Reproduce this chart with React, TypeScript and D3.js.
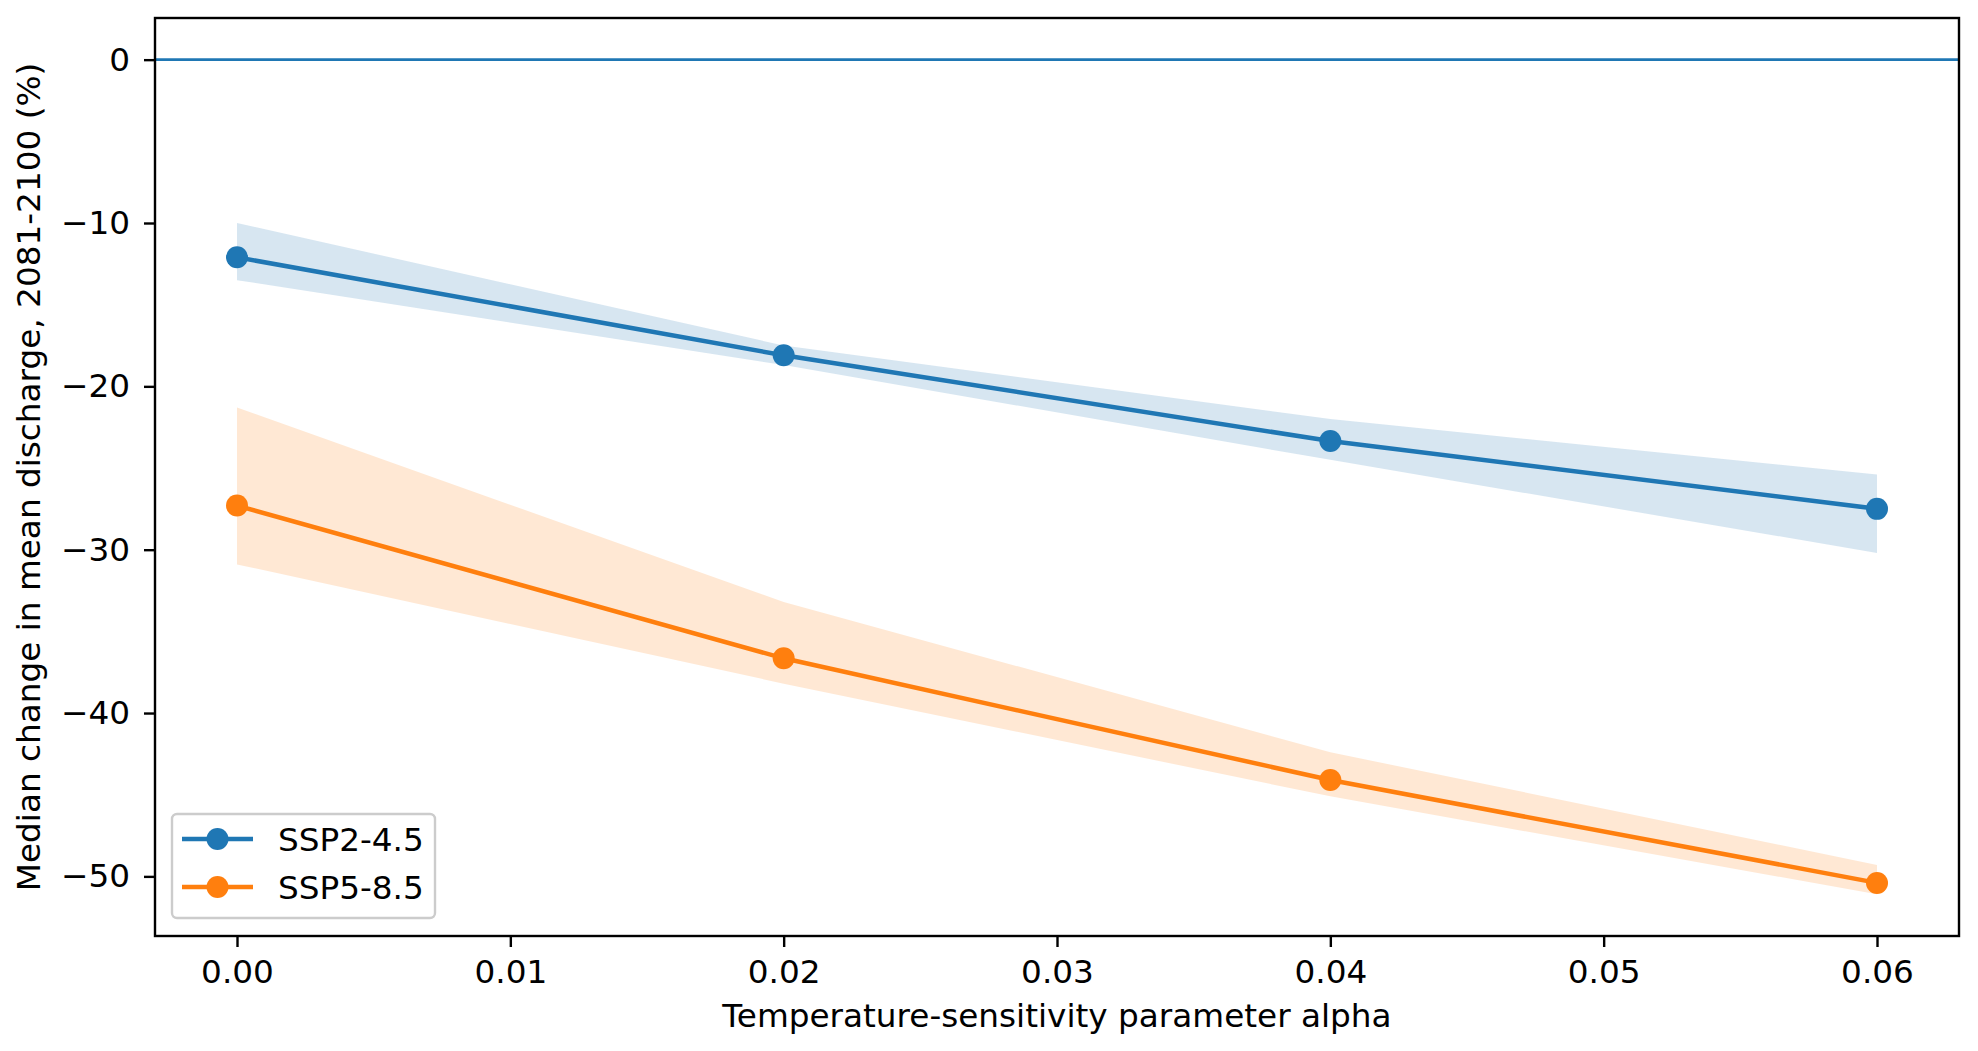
import { useEffect, useRef } from "react"
import * as d3 from "d3"

// alpha values on the x axis
const alphas = [0.0, 0.02, 0.04, 0.06]

// SSP2-4.5 median and band
const ssp245Median = [-12.1, -18.1, -23.35, -27.5]
const ssp245Upper = [-10.0, -17.5, -22.0, -25.4]
const ssp245Lower = [-13.5, -18.7, -24.5, -30.2]

// SSP5-8.5 median and band
const ssp585Median = [-27.3, -36.65, -44.1, -50.4]
const ssp585Upper = [-21.3, -33.2, -42.4, -49.3]
const ssp585Lower = [-30.9, -38.2, -45.1, -51.1]

const xTicks = [0.0, 0.01, 0.02, 0.03, 0.04, 0.05, 0.06]
const yTicks = [0, -10, -20, -30, -40, -50]

const seriesNames = ["SSP2-4.5", "SSP5-8.5"]
const seriesColors = ["#1f77b4", "#ff7f0e"]

export default function App() {
  const svgRef = useRef<SVGSVGElement>(null)

  useEffect(() => {
    if (!svgRef.current) return
    const svg = d3.select(svgRef.current)
    svg.selectAll("*").remove()

    const W = 1978
    const H = 1051
    const margin = { top: 18, right: 19, bottom: 115, left: 155 }
    const font = "DejaVu Sans, sans-serif"
    const fontSize = 32.7

    svg.attr("width", W).attr("height", H)
    svg.append("rect").attr("width", W).attr("height", H).attr("fill", "white")

    const x = d3.scaleLinear().domain([-0.003, 0.063]).range([margin.left, W - margin.right])
    const y = d3.scaleLinear().domain([2.55, -53.65]).range([margin.top, H - margin.bottom])

    const plot = svg.append("g")

    const series = [
      { median: ssp245Median, upper: ssp245Upper, lower: ssp245Lower },
      { median: ssp585Median, upper: ssp585Upper, lower: ssp585Lower },
    ]

    // shaded ranges
    series.forEach((s, i) => {
      const area = d3
        .area<number>()
        .x((d) => x(d))
        .y0((_, j) => y(s.lower[j]))
        .y1((_, j) => y(s.upper[j]))
      plot
        .append("path")
        .attr("d", area(alphas))
        .attr("fill", seriesColors[i])
        .attr("fill-opacity", 0.18)
    })

    // zero line
    plot
      .append("line")
      .attr("x1", margin.left)
      .attr("x2", W - margin.right)
      .attr("y1", y(0))
      .attr("y2", y(0))
      .attr("stroke", seriesColors[0])
      .attr("stroke-width", 2.8)

    // median lines + markers
    series.forEach((s, i) => {
      const line = d3
        .line<number>()
        .x((d) => x(d))
        .y((_, j) => y(s.median[j]))
      plot
        .append("path")
        .attr("d", line(alphas))
        .attr("fill", "none")
        .attr("stroke", seriesColors[i])
        .attr("stroke-width", 4.5)
      plot
        .selectAll(null)
        .data(alphas)
        .enter()
        .append("circle")
        .attr("cx", (d) => x(d))
        .attr("cy", (_, j) => y(s.median[j]))
        .attr("r", 11)
        .attr("fill", seriesColors[i])
    })

    // axes
    const xAxis = svg
      .append("g")
      .attr("transform", `translate(0,${H - margin.bottom})`)
      .call(
        d3
          .axisBottom(x)
          .tickValues(xTicks)
          .tickFormat((d) => d3.format(".2f")(d as number))
          .tickSize(11)
          .tickPadding(13)
      )
    const yAxis = svg
      .append("g")
      .attr("transform", `translate(${margin.left},0)`)
      .call(
        d3
          .axisLeft(y)
          .tickValues(yTicks)
          .tickFormat((d) => d3.format("d")(d as number).replace("-", "\u2212"))
          .tickSize(11)
          .tickPadding(14)
      )
    for (const ax of [xAxis, yAxis]) {
      ax.select(".domain").remove()
      ax.selectAll(".tick line").attr("stroke", "black").attr("stroke-width", 2.4)
      ax.selectAll(".tick text")
        .attr("fill", "black")
        .style("font-family", font)
        .style("font-size", `${fontSize}px`)
    }

    // frame
    svg
      .append("rect")
      .attr("x", margin.left)
      .attr("y", margin.top)
      .attr("width", W - margin.left - margin.right)
      .attr("height", H - margin.top - margin.bottom)
      .attr("fill", "none")
      .attr("stroke", "black")
      .attr("stroke-width", 2.4)

    // axis labels
    svg
      .append("text")
      .attr("x", (margin.left + W - margin.right) / 2)
      .attr("y", 1027)
      .attr("text-anchor", "middle")
      .style("font-family", font)
      .style("font-size", `${fontSize}px`)
      .text("Temperature-sensitivity parameter alpha")

    svg
      .append("text")
      .attr("transform", `translate(40,${(margin.top + H - margin.bottom) / 2}) rotate(-90)`)
      .attr("text-anchor", "middle")
      .style("font-family", font)
      .style("font-size", `${fontSize}px`)
      .text("Median change in mean discharge, 2081-2100 (%)")

    // legend
    const legend = svg.append("g").attr("transform", "translate(172,814)")
    legend
      .append("rect")
      .attr("width", 263)
      .attr("height", 104)
      .attr("rx", 5)
      .attr("fill", "white")
      .attr("fill-opacity", 0.8)
      .attr("stroke", "#cccccc")
      .attr("stroke-width", 2.4)
    seriesNames.forEach((name, i) => {
      const cy = 25 + i * 48
      legend
        .append("line")
        .attr("x1", 10)
        .attr("x2", 81)
        .attr("y1", cy)
        .attr("y2", cy)
        .attr("stroke", seriesColors[i])
        .attr("stroke-width", 4.5)
      legend.append("circle").attr("cx", 45.5).attr("cy", cy).attr("r", 11).attr("fill", seriesColors[i])
      legend
        .append("text")
        .attr("x", 106)
        .attr("y", cy)
        .attr("dy", "0.36em")
        .style("font-family", font)
        .style("font-size", `${fontSize}px`)
        .text(name)
    })
  }, [])

  return (
    <div style={{ position: "absolute", left: 0, top: 0 }}>
      <svg ref={svgRef} style={{ display: "block" }}></svg>
    </div>
  )
}
